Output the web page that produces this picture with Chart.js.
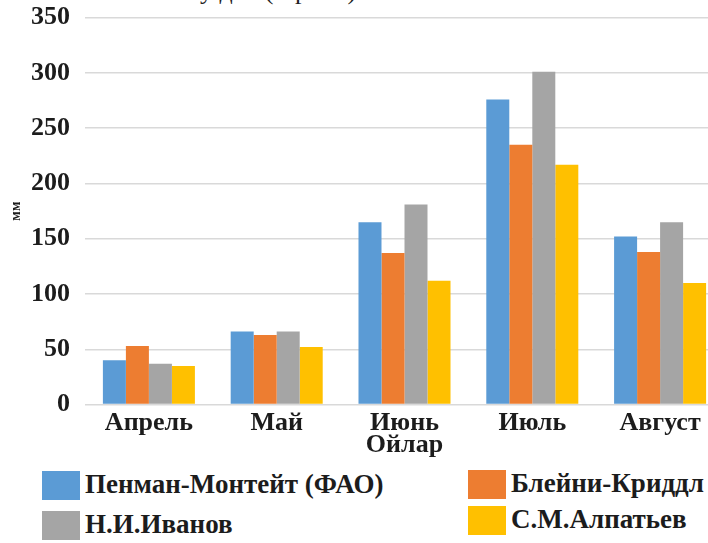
<!DOCTYPE html>
<html>
<head>
<meta charset="utf-8">
<script src="https://cdn.jsdelivr.net/npm/chart.js@4/dist/chart.umd.min.js"></script>
<style>
  body { margin: 0; overflow: hidden; background: #fff; width: 708px; height: 543px; position: relative; }
  #wrap { position: absolute; left: 0; top: -13px; }
  #topline { position: absolute; left: 200px; top: -24px; font: 26px "Liberation Serif"; color: #222; white-space: nowrap; }
  .leg { position: absolute; font: bold 27px "Liberation Serif"; color: #1c1c1c; white-space: nowrap; }
  .leg span.box { position: absolute; left: 0; top: 0; width: 38px; height: 29px; }
  .leg span.txt { position: absolute; left: 43px; top: -2px; }
</style>
</head>
<body>
<div id="topline">у дан (3-расм)</div>
<div id="wrap"><canvas id="stockChart" width="724" height="474"></canvas></div>
<div id="legend"></div>
<script>
const months = ["Апрель", "Май", "Июнь", "Июль", "Август"];
const seriesNames = ["Пенман-Монтейт (ФАО)", "Блейни-Криддл", "Н.И.Иванов", "С.М.Алпатьев"];
const seriesColors = ["#5b9bd5", "#ed7d31", "#a5a5a5", "#ffc000"];

const penman = [40, 66, 165, 276, 152];
const blaney = [53, 63, 137, 235, 138];
const ivanov = [37, 66, 181, 301, 165];
const alpatiev = [35, 52, 112, 217, 110];

const yTicks = [0, 50, 100, 150, 200, 250, 300, 350];

const serif = "'Liberation Serif', 'Times New Roman', serif";
const values = [penman, blaney, ivanov, alpatiev];

const ctx = document.getElementById("stockChart").getContext("2d");
window.stockChart = new Chart(ctx, {
  type: "bar",
  data: {
    labels: months,
    datasets: seriesNames.map((name, i) => ({
      label: name,
      data: values[i],
      backgroundColor: seriesColors[i],
      borderWidth: 0
    }))
  },
  options: {
    responsive: false,
    animation: false,
    devicePixelRatio: 1,
    layout: { padding: { top: 2, left: 0, right: 0, bottom: 0 } },
    plugins: {
      legend: { display: false },
      tooltip: { enabled: false }
    },
    datasets: {
      bar: { categoryPercentage: 0.72, barPercentage: 1.0 }
    },
    scales: {
      x: {
        grid: { display: false, drawTicks: false },
        border: { display: false },
        ticks: {
          padding: 3,
          color: "#1c1c1c",
          font: { family: serif, size: 26, weight: "bold" }
        },
        title: {
          display: true,
          text: "Ойлар",
          color: "#1c1c1c",
          padding: { top: -12, bottom: 0 },
          font: { family: serif, size: 26, weight: "bold" }
        }
      },
      y: {
        min: 0,
        max: 350,
        afterBuildTicks: (axis) => { axis.ticks = yTicks.map(v => ({ value: v })); },
        afterFit: (axis) => { axis.width = 85; },
        grid: { color: "#d9d9d9", lineWidth: 1.5, drawTicks: false },
        border: { display: false },
        ticks: {
          padding: 15,
          color: "#1c1c1c",
          font: { family: serif, size: 26, weight: "bold" }
        },
        title: {
          display: true,
          text: "мм",
          color: "#1c1c1c",
          padding: { top: 8, bottom: 0 },
          font: { family: serif, size: 14, weight: "bold" }
        }
      }
    }
  }
});

// legend in two columns, built from the series arrays
const legendPos = [[42, 471], [468, 470], [42, 511], [468, 506]];
const legend = document.getElementById("legend");
seriesNames.forEach((name, i) => {
  const item = document.createElement("div");
  item.className = "leg";
  item.style.left = legendPos[i][0] + "px";
  item.style.top = legendPos[i][1] + "px";
  item.innerHTML = '<span class="box" style="background:' + seriesColors[i] + '"></span><span class="txt">' + name + '</span>';
  legend.appendChild(item);
});
</script>
</body>
</html>
